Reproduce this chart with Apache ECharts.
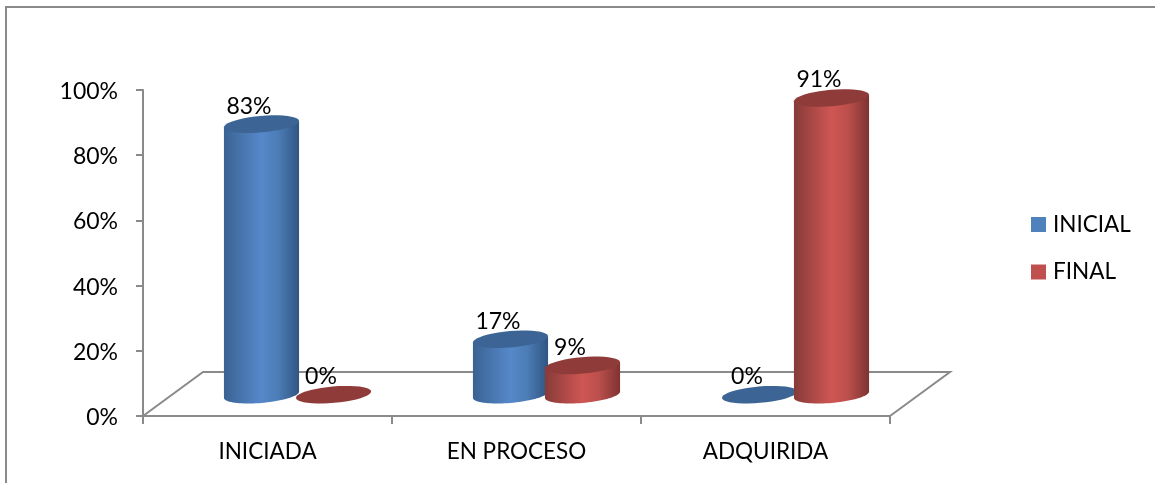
<!DOCTYPE html>
<html>
<head>
<meta charset="utf-8">
<style>html,body{margin:0;padding:0;background:#fff}#c{width:1155px;height:483px}</style>
<script src="https://cdn.jsdelivr.net/npm/echarts@6/dist/echarts.min.js"></script>
</head>
<body>
<div id="c"></div>
<script>
const categories = ['INICIADA', 'EN PROCESO', 'ADQUIRIDA'];
const inicial = [83, 17, 0];
const final = [0, 9, 91];
const seriesNames = ['INICIAL', 'FINAL'];

const FONT = 'Lato, "Open Sans", sans-serif';
const AXIS = '#8a8a8a';
const DEPTH_X = 60, DEPTH_Y = 44;
const RX = 37.7, RY = 8.2, TILT = 5 * Math.PI / 180;

function ellipsePt(cx, cy, t) {
  return [
    cx + RX * Math.cos(t) * Math.cos(TILT) + RY * Math.sin(t) * Math.sin(TILT),
    cy - RX * Math.cos(t) * Math.sin(TILT) + RY * Math.sin(t) * Math.cos(TILT)
  ];
}
function arc(cx, cy, from, to) {
  const pts = [], n = 40;
  for (let i = 0; i <= n; i++) pts.push(ellipsePt(cx, cy, from + (to - from) * i / n));
  return pts;
}
const T0 = Math.atan2(RY * Math.sin(TILT), RX * Math.cos(TILT));

function cylinder(palette, offset) {
  return function (params, api) {
    const cat = api.value(0), val = api.value(1);
    const base = api.coord([cat, 0]), top = api.coord([cat, val]);
    const cx = base[0] + DEPTH_X / 2 + offset;
    const yb = base[1] - DEPTH_Y / 2 + 0.7, yt = top[1] - DEPTH_Y / 2 + 0.7;
    const children = [];
    if (val > 0) {
      const body = arc(cx, yb, T0, T0 + Math.PI).concat([ellipsePt(cx, yt, T0 + Math.PI), ellipsePt(cx, yt, T0)]);
      children.push({
        type: 'polygon', shape: { points: body },
        style: {
          fill: new echarts.graphic.LinearGradient(0, 0, 1, 0, [
            { offset: 0, color: palette.edgeL },
            { offset: 0.5, color: palette.light },
            { offset: 0.72, color: palette.mid },
            { offset: 1, color: palette.edgeR }
          ])
        }
      });
    }
    children.push({
      type: 'polygon', shape: { points: arc(cx, yt, 0, Math.PI * 2) },
      style: { fill: palette.top }
    });
    children.push({
      type: 'text', z2: 100,
      style: {
        text: val + '%', x: cx - 12.5, y: yt - 18,
        align: 'center', verticalAlign: 'middle',
        font: '23px ' + FONT, fill: '#000'
      }
    });
    return { type: 'group', children };
  };
}

const blue = { edgeL: '#3a6394', mid: '#4c7db6', light: '#5688ca', edgeR: '#2f5583', top: '#3c6595' };
const red = { edgeL: '#873b39', mid: '#bb4f4c', light: '#cf5653', edgeR: '#7e3331', top: '#8f3b39' };

const chart = echarts.init(document.getElementById('c'), null, { renderer: 'canvas' });
chart.setOption({
  animation: false,
  backgroundColor: '#fff',
  textStyle: { fontFamily: FONT },
  graphic: [
    { type: 'polyline', shape: { points: [[6, 483], [6, 7], [1155, 7]] }, style: { stroke: AXIS, lineWidth: 2, fill: 'none' }, silent: true }
  ],
  legend: {
    orient: 'vertical', left: 1026, top: 208,
    itemWidth: 15, itemHeight: 15, itemGap: 24.5, icon: 'rect',
    data: seriesNames,
    textStyle: { fontSize: 22.5, color: '#000', fontFamily: FONT, padding: [0, 0, 0, 2] }
  },
  grid: { left: 143, top: 90, width: 747, height: 326 },
  xAxis: {
    type: 'category', data: categories,
    axisLine: { lineStyle: { color: AXIS, width: 2 } },
    axisTick: { show: true, length: 8, alignWithLabel: false, lineStyle: { color: AXIS, width: 2 } },
    axisLabel: { color: '#000', fontSize: 22.5, margin: 24, fontFamily: FONT }
  },
  yAxis: {
    type: 'value', min: 0, max: 100, interval: 20,
    axisLine: { show: true, lineStyle: { color: AXIS, width: 2 } },
    axisTick: { show: true, length: 7, lineStyle: { color: AXIS, width: 2 } },
    axisLabel: { color: '#000', fontSize: 23, margin: 25, formatter: '{value}%', fontFamily: FONT, verticalAlign: 'top', lineHeight: 3 },
    splitLine: { show: false }
  },
  series: [
    {
      type: 'custom', name: 'floor', silent: true, z: 1, clip: false,
      data: [[0, 0]],
      renderItem: function (params, api) {
        const bw = api.size([1, 0])[0];
        const o = api.coord([0, 0]), e = api.coord([categories.length - 1, 0]);
        const x0 = o[0] - bw / 2, x1 = e[0] + bw / 2, y = o[1];
        return {
          type: 'polyline',
          shape: { points: [[x0, y], [x0 + DEPTH_X, y - DEPTH_Y], [x1 + DEPTH_X, y - DEPTH_Y], [x1, y]] },
          style: { stroke: AXIS, lineWidth: 2, fill: 'none' }
        };
      }
    },
    {
      type: 'custom', name: seriesNames[0], z: 3, clip: false,
      itemStyle: { color: '#4f81bd' },
      encode: { x: 0, y: 1 },
      data: inicial.map((v, i) => [i, v]),
      renderItem: cylinder(blue, -36)
    },
    {
      type: 'custom', name: seriesNames[1], z: 4, clip: false,
      itemStyle: { color: '#c0504d' },
      encode: { x: 0, y: 1 },
      data: final.map((v, i) => [i, v]),
      renderItem: cylinder(red, 36)
    }
  ]
});
</script>
</body>
</html>
